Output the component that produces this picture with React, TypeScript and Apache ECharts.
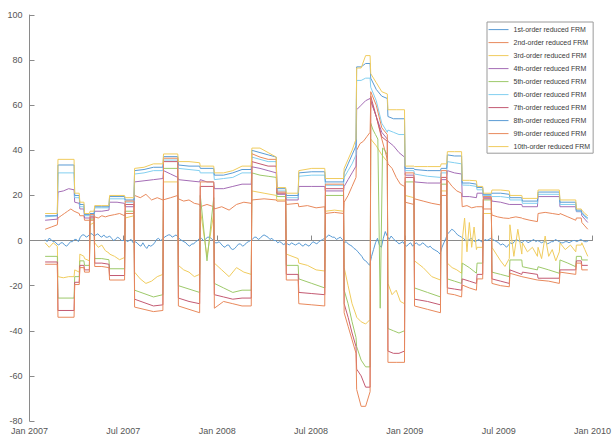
import React, { useEffect, useRef } from 'react';
import * as echarts from 'echarts';

// x axis in months since Jan 2007
const xTickMonths = [0, 6, 12, 18, 24, 30, 36];
const xTickLabels = ['Jan 2007', 'Jul 2007', 'Jan 2008', 'Jul 2008', 'Jan 2009', 'Jul 2009', 'Jan 2010'];

const seriesNames = [
  '1st-order reduced FRM', '2nd-order reduced FRM', '3rd-order reduced FRM', '4th-order reduced FRM',
  '5th-order reduced FRM', '6th-order reduced FRM', '7th-order reduced FRM', '8th-order reduced FRM',
  '9th-order reduced FRM', '10th-order reduced FRM',
];

// 1st order: values on a regular grid starting at month 1.0, step 0.125
const order1Start = 1.0;
const order1Step = 0.125;
const order1 = [
  0.5, -0.5, 1, 0.5, -0.5, -0.5, -1.5, -2, -1, -1, -2, -2.5, -1.5, -0.5, -0.5, 0.5, 0.5, -0.5, 1.5, 2.5,
  2.5, 1.5, 2, 3, 3, 2, 2.5, 3, 2, 1.5, 2.5, 1.5, 1.5, 2, 1, 0, 0.5, 1.5, 1, 0,
  0, 0.5, -0.5, 0, 0.5, -1, -0.5, -1, -2, -2.5, -1, -2.5, -3.5, -2, -2.5, -2, -1, 0.5, 1, 0,
  0.5, 1.5, 2, 2.5, 2.5, 1.5, 2, 2.5, 1.5, 0.5, 0, -0.5, -1, -2, -2.5, -1.5, -1.5, -0.5, 0, 1,
  1, 0, 0.5, 1.5, 1.5, 1, 0, -1, -1, -0.5, -1.5, -2.5, -3, -2, -2, -3.5, -4, -3.5, -2.5, -1.5,
  -1.5, -2.5, -2, -1, -0.5, 0, 0.5, 1.5, 1.5, 0.5, 1, 2, 2.5, 2, 1.5, 0.5, 1, 0, 0, -1,
  -0.5, -1, -2, -1, -1.5, -2, -1, -1.5, -2, -1.5, -1, -2, -2.5, -1.5, -2, -2.5, -1.5, -0.5, -1, -1.5,
  -0.5, 0, 0.5, 1, 1.5, 2.5, 2, 1.5, 1.5, 0.5, 1, 1.5, 0.5, -1, -0.5, -1.5, -2, -2.5, -3.5, -4,
  -5, -6, -7, -8.5, -9, -10, -11, -7, -4, -1, 1, -2, -3, 1, 4, 2, 0.5, 2, 1, 0,
  -0.5, -1.5, -1, -0.5, -2, -2.5, -1.5, -1, -2.5, -1.5, -1, -2, -2, -1, -1.5, -2.5, -3, -2.5, -3.5, -4,
  -4.5, -5, -6, -3, -1, 1, 3, 4, 5, 4.5, 3.5, 2.5, 2, 1.5, 1, 0, 0, 0.5, 1, 0,
  -0.5, 0, 0.5, -0.5, -0.5, 0.5, 0, 0.5, 1, 0.5, 0, -0.5, -1, -2, -1.5, -2, -3, -2, -1, -1.5,
  -0.5, 0.5, 0, -0.5, -1, 0, 0, -1, -0.5, 0, 0.5, -0.5, 0, -0.5, -1, -0.5, -0.5, -1.5, -1, -0.5,
  -0.5, 0.5, 0, -0.5, -1, -1, -0.5, -0.5, -1, -0.5, 0, 0, -0.5, 0, 0.5, 0, -0.5, -0.5, 0,
];

// regime blocks (month boundaries) for orders 2..10
const blockEdges = [1.0, 1.8, 2.87, 3.2, 3.5, 3.85, 4.15, 5.1, 6.1, 6.7, 8.55, 9.5, 10.9, 11.8, 14.2, 15.8, 16.4,
  17.2, 18.9, 20.1, 20.9, 21.8, 22.9, 24.0, 24.6, 26.3, 26.7, 27.65, 28.6, 29.0, 29.55, 30.7, 31.5, 32.5, 33.9,
  34.95, 35.3, 35.7];

const order2 = [[5, 6, 7], [10, 11, 12, 13, 14, 13], [13, 12], [11, 11], [9, 9], [9, 9], [10.5, 10, 11, 10.5, 11],
  [11, 11.5, 12, 11], [12, 12], [20, 19, 20.5, 18, 19, 18], [18, 19, 20], [18.5, 17.5, 18, 16.5, 16], [15, 16, 15],
  [14, 15, 13.5, 16, 17, 16.5], [18, 18.5, 18], [17.5, 17.5], [16, 16.5], [15, 15.5, 14.5, 15], [12, 12.5, 12],
  [17, 20, 24, 28], [40, 43, 44, 46, 48], [62, 55, 45, 36], [34, 32, 28, 25, 24], [17, 16], [18.5, 17.5, 16.5, 15.8],
  [20, 20], [26.8, 24, 22, 21], [15, 15.5, 14.5, 15], [15, 15], [14, 14], [11.3, 10.5, 10, 9.8], [10, 10.5, 10],
  [9.8, 9, 8.4], [12, 12.5, 12, 11.5], [12, 10.5, 9], [10, 10], [8, 6.5, 5]];

const order3 = [[-1, -3, -1, -2.5], [-16, -16.5, -16, -16], [-13, -14], [-6, -7], [-8, -9], [7, 8],
  [-1, -3, -2, -4.5, -5.5], [-6, -7, -8.5, -7.5], [10, 11], [-14, -17, -19, -18, -16, -15], [26, 26],
  [-11, -13, -14, -16, -15], [14, -7, 12], [-10, -13, -16, -12, -14, -15], [22, 21, 20], [18, 18], [-6, -8],
  [-10, -11, -13, -13.5], [13, 13.5, 13], [-12, -20, -28, -33], [-34, -36, -37, -35], [45, 42, 38, 35],
  [-19, -24, -22, -27, -28], [20, 19], [-9, -12, -16, -17.5], [22, 22], [-10, -12, -13, -14.5],
  [0, 10, -5, 8, -3, 6, -4], [-3, -3], [12, 12], [-3, -6, -9, -11.5, -8], [7, -7, 5, -6], [-1, -5, -3, -7],
  [-3, -8, 2, -7, -4, -9, -5], [-1, -4, -2, -5], [-2, -2], [-1, -4, -7]];

const order4 = [[9, 9.5], [21.5, 22, 23, 22.5], [17, 16.5], [14, 14], [10, 10], [10, 10], [13, 13, 13.5],
  [17, 17, 16.5], [15, 15], [26, 26.5, 27, 27.5], [31, 29.5, 28], [27, 26.5, 26], [27, 26, 26], [23, 23, 24, 25, 25],
  [32.7, 32, 31, 30], [20.5, 20.5], [18, 18], [24, 24, 24], [22, 22], [24, 27, 30, 33], [58, 60, 62, 63],
  [62, 55, 48, 45], [44, 42, 39, 37], [29, 29], [26, 25.5, 25.5], [27, 27], [31, 30, 29.5], [19.5, 19.5, 19],
  [21, 21], [19, 19], [17.5, 17, 16], [16, 16], [15, 15], [19.5, 19.5], [15, 15], [12.8, 12.8], [11, 9.5, 8]];

const order5 = [[-7, -7], [-25.5, -25.5], [-16, -16], [-9, -9], [-11, -11], [9.5, 9.5], [-8, -8, -8.5],
  [-12.5, -12.5], [13, 13], [-22, -23.5, -25, -24], [32, 32], [-20, -21.5, -23], [20, -9, 19],
  [-19, -21, -23, -22, -22], [30, 29, 28.5, 28], [19.5, 19.5], [-11, -11], [-17, -19, -21], [20, 20],
  [-22, -28, -36, -43], [-47, -53, -56, -56], [52, 49, 47, 45, -30, 41, 40, 38], [-39, -40, -41, -40], [26, 26],
  [-21, -23, -25], [25, 25], [-17, -18, -19], [-10, -12, -14.5], [-10, -10], [18, 18], [-14, -15, -16],
  [-8.6, -8.6], [-11.6, -13], [-11.6, -13, -14.5], [-8.6, -10, -11.6], [-7, -7], [-8.6, -8.6]];

const order6 = [[10.5, 11], [30, 30], [19, 19], [15, 15], [11, 11], [11, 11], [14.5, 14.5, 14.5], [18.5, 18.5],
  [17, 17], [29.5, 30, 31, 31], [35.7, 35.7], [32, 31.5, 31], [30, 30], [27, 27.5, 28, 30, 30], [37, 36, 35, 35],
  [22, 22], [19, 19], [28.5, 29, 29], [24.5, 24.5], [28, 31, 34, 38], [71, 71, 72, 72], [68, 62, 52, 48],
  [49, 48, 47, 47], [31, 31], [29.5, 28.5, 28], [30, 30], [35, 34.5, 34], [24.6, 24.5, 24], [22.5, 22.5], [20, 20],
  [19.5, 19.5, 19], [18, 18], [16.5, 16.5], [20.5, 20.5], [16, 16], [13, 13], [12, 10.5, 9.5]];

const order7 = [[-9.5, -9.5], [-31, -31], [-18.5, -18.5], [-11, -11], [-13, -13], [10.5, 10.5], [-10, -10, -10.5],
  [-15.5, -15.5], [16, 16], [-26, -27.5, -29, -28.5], [35, 35], [-25.5, -27, -28], [24, 24],
  [-24, -25, -26, -25.5, -25.5], [35, 34, 33, 33], [21, 21], [-15, -15], [-23, -23.5, -24], [23, 23],
  [-28, -34, -41, -47], [-57, -60, -65, -65], [64, 55, 46, 44], [-49, -50, -50, -49], [28, 28], [-26, -27, -28.5],
  [28, 28], [-21, -21.5, -22], [-17, -18, -19], [-15, -15], [18.5, 18.5], [-17, -18, -19], [-13, -15], [-14, -15],
  [-16.7, -16.7], [-13, -13], [-9, -9], [-11, -11]];

const order8 = [[11, 11], [33.5, 33.5], [20, 20], [16, 16], [11.5, 11.5], [12, 12], [15, 15, 15], [19.5, 19.5],
  [18, 18], [31, 31.5, 32.5, 32.5], [37.2, 37.2], [33.5, 33, 33], [32, 32], [29, 29, 30, 31.5, 31.5],
  [40, 39, 38, 37], [23, 23], [20, 20], [30, 30.5, 30.5], [26, 26], [30, 34, 38, 42], [77, 77, 78.5, 78.5],
  [72, 67, 64, 63], [55, 54, 54, 54], [32, 32], [31.5, 31, 31], [32, 32], [38, 37.5, 37.5], [25.5, 25.5, 25],
  [23.5, 23.5], [20.5, 20.5], [21, 21, 20.5], [19, 19], [17.5, 17.5], [21.5, 21.5], [17, 17], [13.5, 13.5],
  [12.5, 11, 10]];

const order9 = [[-10.5, -10.5], [-34, -34], [-19.5, -19.5], [-12, -12], [-14, -14], [11.5, 11.5],
  [-11.5, -11.5, -12], [-17.5, -17.5], [17.5, 17.5], [-29.5, -30.5, -31.5, -31], [36.5, 36.5], [-29, -30.5, -32],
  [26, 26], [-30, -27, -28, -29, -29], [38.5, 37, 36, 36], [21.5, 21.5], [-17.5, -17.5], [-28, -28.5, -29], [25, 25],
  [-32, -38, -44, -50], [-66, -73.5, -73.5, -67], [66, 60, 50, 47], [-54, -54, -54], [30, 30], [-29, -30.5, -32],
  [31, 31], [-23.5, -24, -25], [-19.7, -21, -22], [-17, -17], [19.5, 19.5], [-19, -20, -20.5], [-14.5, -16],
  [-16, -17.5], [-17.5, -18, -19], [-14, -15], [-10, -10], [-13, -13]];

const order10 = [[12, 12], [36, 36], [21, 21], [17, 17], [12, 12], [13, 13], [15.5, 15.5, 15.5], [20, 20], [19, 19],
  [32, 32.5, 34, 34], [38.4, 38.4], [35, 35, 34.5], [33, 33], [30, 30, 31, 33, 33], [41, 41, 39, 37], [23.5, 23.5],
  [21, 21], [31, 32, 32], [27.5, 27.5], [32, 36, 40, 45], [76.5, 76.5, 82, 82], [74, 70, 66, 65], [58, 58, 58],
  [33, 33], [32.8, 32.8, 32.8], [34, 34], [39.4, 39.4, 39.4], [26.7, 26.7, 26.5], [24, 24], [21, 21],
  [22.4, 22.4, 22], [20, 20], [18.7, 18.7], [22.4, 22.4], [18, 18], [14, 14], [13.5, 12, 11]];

const colors = ['#5a9bd4', '#e8895c', '#f0cc5e', '#a46db5', '#9dc96a', '#82cff0', '#c35a72', '#5a9bd4', '#e8895c', '#f0cc5e'];

const FONT = "'Liberation Sans', Arial, sans-serif";

function blockPairs(blocks: number[][]): number[][] {
  const out: number[][] = [];
  blocks.forEach((vals, b) => {
    const s = blockEdges[b] + (b === 0 ? 0 : 0.02);
    const e = blockEdges[b + 1] - (b === blocks.length - 1 ? 0 : 0.02);
    const n = vals.length;
    vals.forEach((v, k) => {
      const x = n === 1 ? s : s + (k * (e - s)) / (n - 1);
      out.push([x, v]);
    });
  });
  return out;
}

export default function App() {
  const ref = useRef<HTMLDivElement>(null);
  useEffect(() => {
    if (!ref.current) return;
    const chart = echarts.init(ref.current, undefined, { renderer: 'svg' });
    const d1 = order1.map((v, i) => [order1Start + i * order1Step, v]);
    const blocksAll = [order2, order3, order4, order5, order6, order7, order8, order9, order10];
    const datas = [d1, ...blocksAll.map(blockPairs)];
    chart.setOption({
      animation: false,
      backgroundColor: '#ffffff',
      grid: { left: 29.5, right: 18, top: 15, bottom: 24 },
      xAxis: {
        type: 'value', min: 0, max: 36, interval: 6,
        axisLine: { show: true, lineStyle: { color: '#8a8a8a', width: 1 } },
        axisTick: { show: true, inside: true, length: 5, lineStyle: { color: '#8a8a8a' } },
        splitLine: { show: false },
        axisLabel: {
          color: '#555', fontSize: 9, fontFamily: FONT, margin: 5,
          formatter: (v: number) => { const i = xTickMonths.indexOf(v); return i >= 0 ? xTickLabels[i] : ''; },
        },
      },
      yAxis: {
        type: 'value', min: -80, max: 100, interval: 20,
        axisLine: { show: true, lineStyle: { color: '#8a8a8a', width: 1 } },
        axisTick: { show: true, inside: true, length: 5, lineStyle: { color: '#8a8a8a' } },
        splitLine: { show: false },
        axisLabel: { color: '#555', fontSize: 9, fontFamily: FONT, margin: 7 },
      },
      legend: {
        orient: 'vertical', left: 487, top: 22,
        itemWidth: 20, itemHeight: 9, itemGap: 5.8, itemTextGap: 5,
        padding: [4, 3, 3, 1],
        borderColor: '#9a9a9a', borderWidth: 1, backgroundColor: '#ffffff',
        itemStyle: { opacity: 0 },
        textStyle: { fontSize: 7, color: '#3a3a3a', fontFamily: FONT },
        data: seriesNames.map((name, i) => ({
          name,
          itemStyle: { opacity: 0 },
          lineStyle: { color: colors[i], width: 1 },
        })),
      },
      series: datas.map((d, i) => ({
        name: seriesNames[i],
        type: 'line',
        data: d,
        symbol: 'none',
        showSymbol: false,
        color: colors[i],
        lineStyle: { width: 1, color: colors[i] },
        emphasis: { disabled: true },
      })),
    });
    return () => chart.dispose();
  }, []);
  return (
    <div style={{ position: 'fixed', left: 0, top: 0, width: 614, height: 445, background: '#fff' }}>
      <div ref={ref} style={{ width: 614, height: 445 }} />
    </div>
  );
}
